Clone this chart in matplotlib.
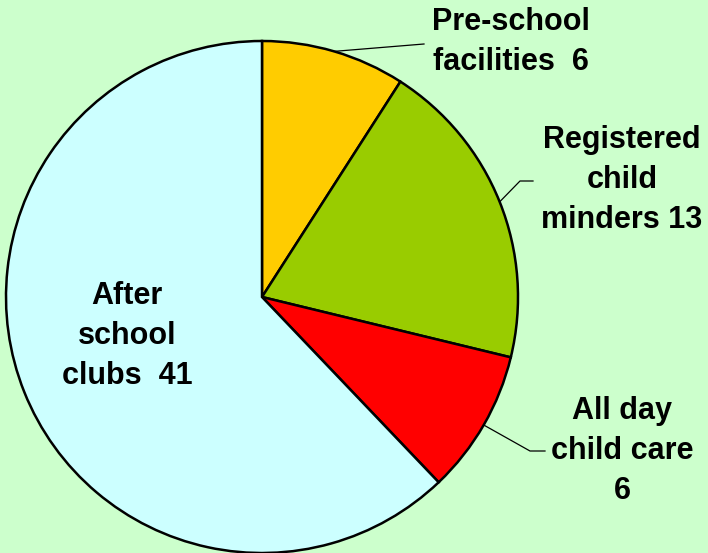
import numpy as np
import matplotlib
matplotlib.use("Agg")
import matplotlib.pyplot as plt

categories = ["Pre-school\nfacilities  6", "Registered\nchild\nminders 13",
              "All day\nchild care\n6", "After\nschool\nclubs  41"]
values = [6, 13, 6, 41]
colors = ["#FFCC00", "#99CC00", "#FF0000", "#CCFFFF"]
bg = "#CCFFCC"

W, H = 708, 553
fig = plt.figure(figsize=(W / 100, H / 100), dpi=100, facecolor=bg)
ax = fig.add_axes([0, 0, 1, 1])
ax.set_facecolor(bg)

cx, cy, r = 262, H - 297, 256
wedges, _ = ax.pie(values, colors=colors, startangle=90, counterclock=False,
                   radius=r, center=(cx, cy), frame=True,
                   wedgeprops=dict(edgecolor="black", linewidth=1.8))
ax.set_xlim(0, W)
ax.set_ylim(0, H)
ax.axis("off")

# label positions (pixel, from top) and leader elbow points
label_pos = [(511, 42), (622, 180), (622, 451), (127, 336)]
elbows = [[(424, 44)], [(520, 181), (533, 181)], [(530, 451), (545, 451)], None]

for w, lab, (lx, ly), elb in zip(wedges, categories, label_pos, elbows):
    ax.text(lx, H - ly, lab, ha="center", va="center", multialignment="center",
            fontsize=22, fontweight="bold", family=["Liberation Sans", "DejaVu Sans"],
            linespacing=1.45, color="black")
    if elb is not None:
        mid = np.deg2rad((w.theta1 + w.theta2) / 2)
        pts = [(cx + r * np.cos(mid), cy + r * np.sin(mid))] + [(x, H - y) for x, y in elb]
        xs, ys = zip(*pts)
        ax.plot(xs, ys, color="black", lw=0.9)

fig.savefig("out.png", dpi=100, facecolor=bg)
